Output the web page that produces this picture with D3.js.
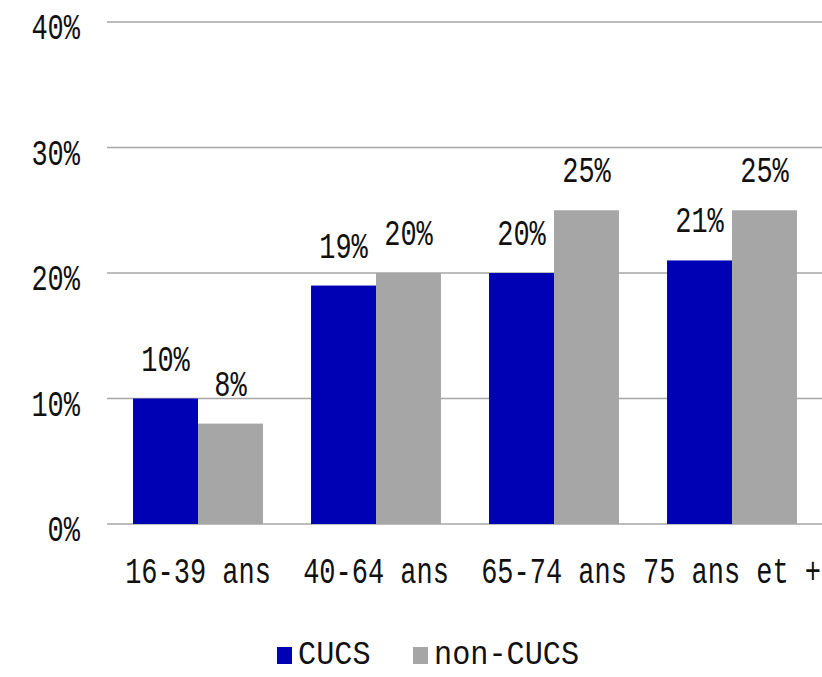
<!DOCTYPE html>
<html lang="fr">
<head>
<meta charset="utf-8">
<script src="https://cdn.jsdelivr.net/npm/d3@7"></script>
<style>
  body { margin: 0; background: white; }
  svg { display: block; background: white; font-family: 'Liberation Mono', 'DejaVu Sans Mono', monospace; }
  .grid line { stroke: #a6a6a6; stroke-width: 1.5px; }
  text { fill: #111; font-size: 27px; }
</style>
</head>
<body>
<svg width="822" height="677"></svg>
<script>
// values
var categories = ["16-39 ans", "40-64 ans", "65-74 ans", "75 ans et +"];
var series = ["CUCS", "non-CUCS"];
var cucs = [0.10, 0.19, 0.20, 0.21];
var nonCucs = [0.08, 0.20, 0.25, 0.25];
var yTicks = [0, 0.1, 0.2, 0.3, 0.4];
var colors = ["#0000b4", "#a6a6a6"];

var svg = d3.select("svg");
var stretch = 1.38; // the source font is tall and narrow

var x = d3.scaleBand().domain(categories).range([109, 821])
    .paddingInner(0.27).paddingOuter(0.135);
var sub = d3.scaleBand().domain(series).range([0, x.bandwidth()]);
var y = d3.scaleLinear().domain([0, 0.4]).range([524, 22]);
var fmt = d3.format(".0%");

function label(g, tx, ty, str, anchor) {
  g.append("text")
    .attr("transform", "translate(" + tx + "," + ty + ") scale(1," + stretch + ")")
    .attr("text-anchor", anchor)
    .text(str);
}

// gridlines + y labels
var grid = svg.append("g").attr("class", "grid");
yTicks.forEach(function(t) {
  grid.append("line")
    .attr("x1", 107).attr("x2", 822)
    .attr("y1", y(t)).attr("y2", y(t));
  label(svg, 80, y(t) + 17, fmt(t), "end");
});

// bars
var rows = categories.map(function(c, i) {
  return { cat: c, vals: [cucs[i], nonCucs[i]] };
});
var groups = svg.append("g").selectAll("g").data(rows).enter().append("g")
  .attr("transform", function(d) { return "translate(" + x(d.cat) + ",0)"; });

groups.selectAll("rect")
  .data(function(d) { return d.vals.map(function(v, j) { return { s: series[j], v: v, j: j }; }); })
  .enter().append("rect")
    .attr("x", function(d) { return sub(d.s); })
    .attr("width", sub.bandwidth())
    .attr("y", function(d) { return y(d.v); })
    .attr("height", function(d) { return y(0) - y(d.v); })
    .attr("fill", function(d) { return colors[d.j]; });

// value labels
groups.each(function(d) {
  var g = d3.select(this);
  d.vals.forEach(function(v, j) {
    label(g, sub(series[j]) + sub.bandwidth() / 2, y(v) - 28, fmt(v), "middle");
  });
});

// category labels
categories.forEach(function(c) {
  label(svg, x(c) + x.bandwidth() / 2, 583, c, "middle");
});

// legend
var legX = [277, 413];
series.forEach(function(s, j) {
  svg.append("rect")
    .attr("x", legX[j]).attr("y", 647).attr("width", 15).attr("height", 17)
    .attr("fill", colors[j]);
  svg.append("text")
    .attr("transform", "translate(" + (legX[j] + 21) + ",664) scale(1.12,1.2)")
    .text(s);
});
</script>
</body>
</html>
